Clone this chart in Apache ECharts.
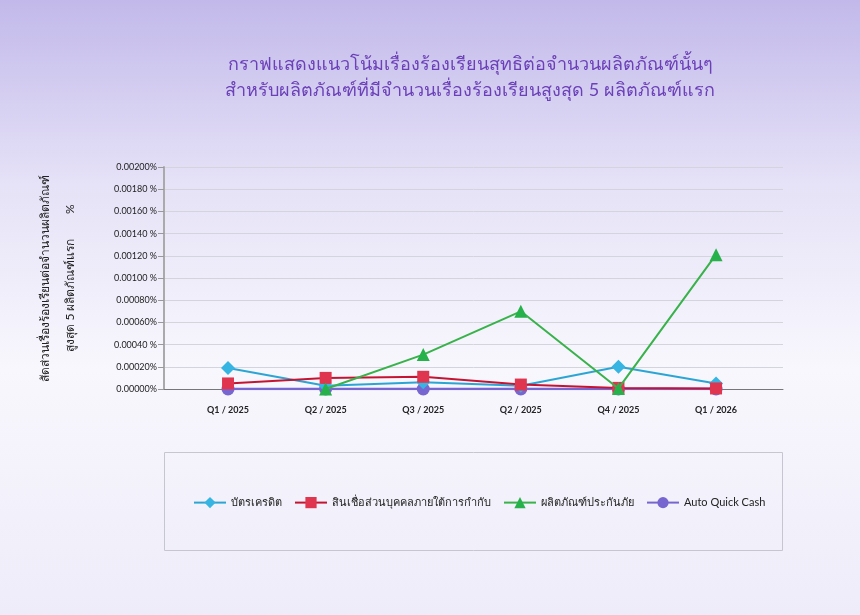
<!DOCTYPE html>
<html><head><meta charset="utf-8">
<script src="https://cdn.jsdelivr.net/npm/echarts@6/dist/echarts.min.js"></script>
<style>html,body{margin:0;padding:0;}#c{width:860px;height:615px;}</style>
</head><body><div id="c"></div>
<script>
const categories = ['Q1 / 2025', 'Q2 / 2025', 'Q3 / 2025', 'Q2 / 2025', 'Q4 / 2025', 'Q1 / 2026'];
const creditCard = [0.00019, 0.00003, 0.00006, 0.00003, 0.00020, 0.00005];
const personalLoan = [0.00005, 0.00010, 0.00011, 0.00004, 0.00001, 0.000005];
const insurance = [null, 0.0, 0.00031, 0.00070, 0.000005, 0.00121];
const autoQuickCash = [0, 0, 0, 0, 0, 0];
const seriesNames = ['บัตรเครดิต', 'สินเชื่อส่วนบุคคลภายใต้การกำกับ', 'ผลิตภัณฑ์ประกันภัย', 'Auto Quick Cash'];
const yTickLabels = ['0.00000%', '0.00020%', '0.00040 %', '0.00060%', '0.00080%', '0.00100 %', '0.00120 %', '0.00140 %', '0.00160 %', '0.00180 %', '0.00200%'];
const titleText = 'กราฟแสดงแนวโน้มเรื่องร้องเรียนสุทธิต่อจำนวนผลิตภัณฑ์นั้นๆ\nสำหรับผลิตภัณฑ์ที่มีจำนวนเรื่องร้องเรียนสูงสุด 5 ผลิตภัณฑ์แรก';
const yTitle = 'สัดส่วนเรื่องร้องเรียนต่อจำนวนผลิตภัณฑ์\nสูงสุด 5 ผลิตภัณฑ์แรก        %';

const FONT = 'Lato, "Noto Sans", sans-serif';
const toPairs = arr => arr.map((v, i) => [i, v]);

const chart = echarts.init(document.getElementById('c'));
chart.setOption({
  backgroundColor: new echarts.graphic.LinearGradient(0, 0, 0, 1, [
    {offset: 0, color: '#c2b9ea'},
    {offset: 0.3, color: '#e6e2f7'},
    {offset: 0.6, color: '#f8f7fd'},
    {offset: 1, color: '#eeecf9'}
  ]),
  title: {
    text: titleText, left: 465, top: 46, textAlign: 'center',
    textStyle: {color: '#6b40b8', fontSize: 18, fontWeight: 'normal', lineHeight: 26, fontFamily: FONT}
  },
  graphic: [{
    type: 'rect', left: 164, top: 452,
    shape: {width: 618, height: 98},
    style: {fill: 'rgba(255,255,255,0)', stroke: '#c6c6d0', lineWidth: 1}
  }],
  legend: {
    data: seriesNames, left: 188, top: 492, itemGap: 12, itemWidth: 32, itemHeight: 14,
    textStyle: {fontSize: 11, color: '#222', fontFamily: FONT}
  },
  grid: {left: 164, right: 77, top: 167, bottom: 226},
  xAxis: {
    type: 'value', min: -0.656, max: 5.686,
    axisLine: {show: true, lineStyle: {color: '#777', width: 1}},
    axisTick: {show: false},
    splitLine: {show: false},
    axisLabel: {
      customValues: [0, 1, 2, 3, 4, 5],
      formatter: v => categories[Math.round(v)],
      margin: 17, fontSize: 9, fontWeight: 'bold', color: '#222', fontFamily: FONT
    }
  },
  yAxis: {
    type: 'value', min: 0, max: 0.002, interval: 0.0002,
    name: yTitle, nameLocation: 'middle', nameRotate: 90, nameGap: 81,
    nameTextStyle: {fontSize: 12, color: '#222', lineHeight: 25, fontFamily: FONT},
    axisLine: {show: true, onZero: false, lineStyle: {color: '#aaa', width: 2}},
    axisTick: {show: true, length: 6, lineStyle: {color: '#999'}},
    splitLine: {lineStyle: {color: '#d4d4dc', width: 1}},
    axisLabel: {
      formatter: v => yTickLabels[Math.round(v / 0.0002)],
      fontSize: 9, color: '#222', margin: 7, fontFamily: FONT
    }
  },
  series: [
    {name: seriesNames[0], type: 'line', data: toPairs(creditCard), symbol: 'diamond', symbolSize: 14,
     lineStyle: {color: '#2ba6d4', width: 2}, itemStyle: {color: '#36b4e2'}, z: 3},
    {name: seriesNames[1], type: 'line', data: toPairs(personalLoan), symbol: 'rect', symbolSize: 12,
     lineStyle: {color: '#c41432', width: 2}, itemStyle: {color: '#e0354f'}, z: 4},
    {name: seriesNames[2], type: 'line', data: toPairs(insurance), symbol: 'triangle', symbolSize: 13,
     lineStyle: {color: '#38b24a', width: 2}, itemStyle: {color: '#27b14a'}, z: 5},
    {name: seriesNames[3], type: 'line', data: toPairs(autoQuickCash), symbol: 'circle', symbolSize: 13,
     lineStyle: {color: '#7766cf', width: 2.5}, itemStyle: {color: '#7766cf'}, z: 2}
  ]
});
</script></body></html>
